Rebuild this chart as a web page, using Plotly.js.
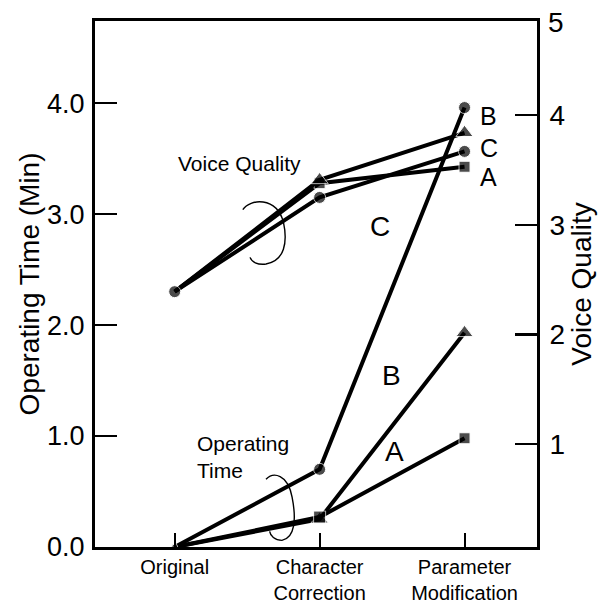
<!DOCTYPE html>
<html><head><meta charset="utf-8">
<script src="https://cdn.plot.ly/plotly-3.0.1.min.js"></script>
<style>html,body{margin:0;padding:0;background:#fff}#chart{width:603px;height:603px}</style>
</head><body><div id="chart"></div>
<script>
const categories = ['Original', 'Character<br>Correction', 'Parameter<br>Modification'];
const catIndex = [0, 1, 2];
// Voice quality (right axis)
const vqA = [2.39, 3.38, 3.53];
const vqB = [2.39, 3.41, 3.84];
const vqC = [2.39, 3.25, 3.67];
// Operating time in minutes (left axis)
const otA = [0.0, 0.27, 0.98];
const otB = [0.0, 0.25, 1.93];
const otC = [0.0, 0.70, 3.96];
const leftTicks = [0, 1, 2, 3, 4];
const leftTickText = ['0.0', '1.0', '2.0', '3.0', '4.0'];
const rightTicks = [1, 2, 3, 4];

const font = 'Liberation Sans, Arial, Helvetica, sans-serif';
const lw = 4;
function tr(y, axis, sym, sizes) {
  return {x: catIndex, y: y, yaxis: axis, type: 'scatter', mode: 'lines+markers',
    line: {color: '#000', width: lw}, marker: {symbol: sym, size: sizes, color: '#000'},
    cliponaxis: false, showlegend: false, hoverinfo: 'skip'};
}
const data = [
  tr(vqA, 'y2', 'square', [0, 11, 11]),
  tr(vqB, 'y2', 'triangle-up', [0, 15, 15]),
  tr(vqC, 'y2', 'circle', [12, 12, 12]),
  tr(otB, 'y', 'triangle-up', [0, 15, 15]),
  tr(otA, 'y', 'square', [0, 12, 11]),
  tr(otC, 'y', 'circle', [6, 12, 12])
];

function ann(x, y, text, size, xref, yref, extra) {
  return Object.assign({x: x, y: y, xref: xref || 'x', yref: yref || 'y', text: text,
    showarrow: false, font: {family: font, size: size, color: '#000'}}, extra || {});
}
const annotations = [
  ann(0.45, 3.46, 'Voice Quality', 21),
  ann(0.138, 0.815, 'Operating<br>Time', 21, 'x', 'y', {align: 'left', xanchor: 'left'}),
  ann(1.414, 2.885, 'C', 28),
  ann(1.497, 1.55, 'B', 28),
  ann(1.517, 0.86, 'A', 28),
  ann(2.09, 3.995, 'B', 25, 'x', 'y2', {xanchor: 'left'}),
  ann(2.09, 3.70, 'C', 25, 'x', 'y2', {xanchor: 'left'}),
  ann(2.09, 3.44, 'A', 25, 'x', 'y2', {xanchor: 'left'}),
  ann(1, 1, '5', 28, 'paper', 'paper', {xanchor: 'left', yanchor: 'middle', xshift: 9, yshift: -1})
];

const shapes = [
  {type: 'path', xref: 'x', yref: 'y',
   path: 'M 0.47 3.04 C 0.52 3.14, 0.70 3.16, 0.75 2.93 C 0.78 2.75, 0.76 2.58, 0.63 2.55 C 0.57 2.54, 0.53 2.57, 0.52 2.61',
   line: {color: '#000', width: 1.4}},
  {type: 'path', xref: 'x', yref: 'y',
   path: 'M 0.63 0.61 C 0.68 0.68, 0.78 0.66, 0.81 0.45 C 0.84 0.25, 0.83 0.08, 0.74 0.06 C 0.69 0.06, 0.66 0.10, 0.655 0.14',
   line: {color: '#000', width: 1.4}}
];

const layout = {
  width: 603, height: 603,
  margin: {l: 95, r: 66, t: 21, b: 56},
  paper_bgcolor: '#fff', plot_bgcolor: '#fff',
  font: {family: font, color: '#000'},
  xaxis: {range: [-0.55, 2.5], tickvals: catIndex, ticktext: categories,
    showgrid: false, zeroline: false, showline: true, mirror: true, linecolor: '#000', linewidth: 3,
    ticks: 'inside', ticklen: 14, tickwidth: 2, tickcolor: '#000', ticklabelstandoff: 0,
    tickfont: {family: font, size: 20, color: '#000'}},
  yaxis: {range: [0, 4.74], tickvals: leftTicks, ticktext: leftTickText,
    showgrid: false, zeroline: false, showline: true, linecolor: '#000', linewidth: 3,
    ticks: 'inside', ticklen: 22, tickwidth: 2.5, tickcolor: '#000', ticklabelstandoff: 2,
    tickfont: {family: font, size: 27, color: '#000'},
    title: {text: 'Operating Time (Min)', font: {family: font, size: 28, color: '#000'}, standoff: 0}},
  yaxis2: {range: [0.06, 4.86], overlaying: 'y', side: 'right', tickvals: rightTicks,
    showgrid: false, zeroline: false, showline: true, linecolor: '#000', linewidth: 3,
    ticks: 'inside', ticklen: 22, tickwidth: 2.5, tickcolor: '#000', ticklabelstandoff: 4,
    tickfont: {family: font, size: 28, color: '#000'},
    title: {text: 'Voice Quality', font: {family: font, size: 28, color: '#000'}, standoff: 8}},
  annotations: annotations,
  shapes: shapes,
  showlegend: false
};
Plotly.newPlot('chart', data, layout, {displayModeBar: false, staticPlot: true});
</script></body></html>
